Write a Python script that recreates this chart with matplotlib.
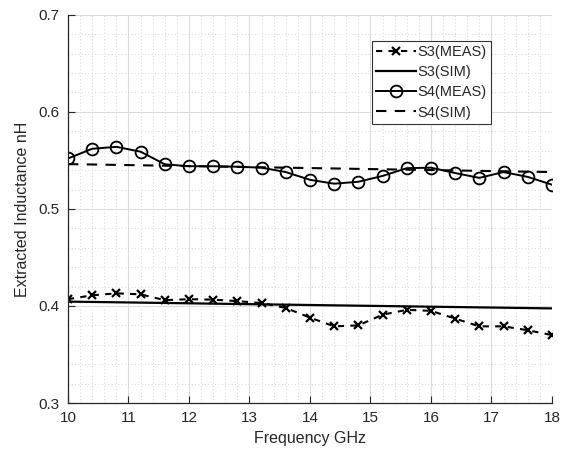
import matplotlib
matplotlib.use("Agg")
import matplotlib.pyplot as plt
from matplotlib.ticker import MultipleLocator

plt.rcParams['font.family'] = ['Liberation Sans', 'DejaVu Sans']

freq = [10.0, 10.4, 10.8, 11.2, 11.6, 12.0, 12.4, 12.8, 13.2, 13.6, 14.0,
        14.4, 14.8, 15.2, 15.6, 16.0, 16.4, 16.8, 17.2, 17.6, 18.0]
s3_meas = [0.407, 0.411, 0.413, 0.412, 0.406, 0.407, 0.4065, 0.405, 0.403, 0.398, 0.388,
           0.379, 0.380, 0.391, 0.396, 0.395, 0.387, 0.379, 0.379, 0.375, 0.370]
s4_meas = [0.552, 0.562, 0.564, 0.559, 0.546, 0.544, 0.544, 0.5435, 0.5425, 0.538, 0.530,
           0.526, 0.528, 0.534, 0.542, 0.5425, 0.537, 0.532, 0.538, 0.533, 0.525]
sim_freq = [10.0, 18.0]
s3_sim = [0.4045, 0.3975]
s4_sim = [0.5462, 0.538]

x_ticks = [10, 11, 12, 13, 14, 15, 16, 17, 18]
y_ticks = [0.3, 0.4, 0.5, 0.6, 0.7]

txt = '#262626'
fig = plt.figure(figsize=(5.68, 4.54), dpi=100)
ax = fig.add_axes([0.1197, 0.1123, 0.852, 0.855])

ax.plot(freq, s3_meas, color='k', lw=1.5, linestyle=(0, (3, 3)), marker='x',
        markersize=6, markeredgewidth=1.6, label='S3(MEAS)')
ax.plot(sim_freq, s3_sim, color='k', lw=1.6, label='S3(SIM)')
ax.plot(freq, s4_meas, color='k', lw=1.4, marker='o', markersize=8.5,
        markerfacecolor='none', markeredgewidth=1.3, label='S4(MEAS)')
ax.plot(sim_freq, s4_sim, color='k', lw=1.5, linestyle=(0, (5, 4)), label='S4(SIM)')

ax.set_xlim(10, 18)
ax.set_ylim(0.3, 0.7)
ax.set_xticks(x_ticks)
ax.set_yticks(y_ticks)
ax.set_xticklabels([str(v) for v in x_ticks])
ax.set_yticklabels([f'{v:.1f}' for v in y_ticks])
ax.xaxis.set_minor_locator(MultipleLocator(0.2))
ax.yaxis.set_minor_locator(MultipleLocator(0.02))
ax.grid(True, which='major', color='#dcdcdc', lw=0.8)
ax.grid(True, which='minor', color='#c8c8c8', lw=0.6, linestyle=(0, (1, 3)))
ax.set_axisbelow(True)

for s in ['top', 'right']:
    ax.spines[s].set_visible(False)
for s in ['left', 'bottom']:
    ax.spines[s].set_color(txt)
    ax.spines[s].set_linewidth(0.9)

ax.tick_params(which='major', direction='in', length=5, width=0.8, colors=txt,
               labelsize=11, pad=6)
ax.tick_params(which='minor', length=0)

ax.set_xlabel('Frequency GHz', fontsize=11.5, color=txt, labelpad=4)
ax.set_ylabel('Extracted Inductance nH', fontsize=11.5, color=txt, labelpad=6)

leg = ax.legend(loc='upper left', bbox_to_anchor=(0.628, 0.933), fontsize=10.5,
                frameon=True, fancybox=False, edgecolor='#333333', framealpha=1,
                handlelength=2.7, handletextpad=0.15, labelspacing=0.42,
                borderpad=0.3, borderaxespad=0)
leg.get_frame().set_linewidth(0.8)
for t in leg.get_texts():
    t.set_color(txt)

fig.savefig('out.png', dpi=100)
